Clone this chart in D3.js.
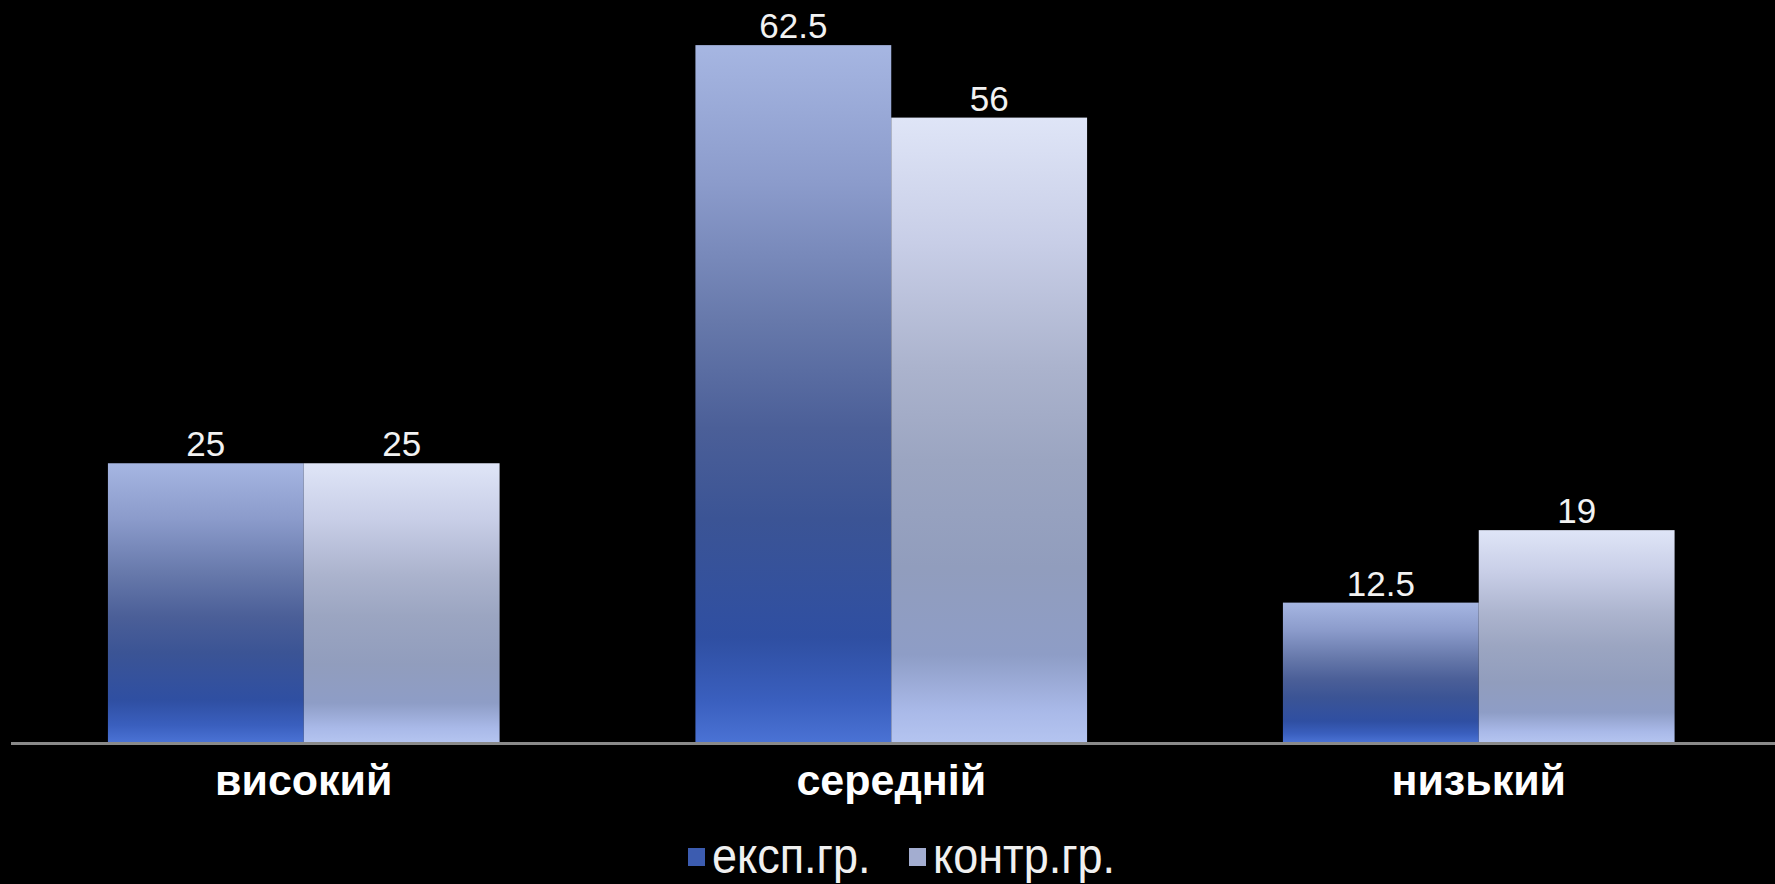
<!DOCTYPE html>
<html>
<head>
<meta charset="utf-8">
<script src="https://cdn.jsdelivr.net/npm/d3@7"></script>
<style>
  html, body { margin: 0; padding: 0; background: #000; }
  svg { display: block; }
</style>
</head>
<body>
<svg id="chart" width="1775" height="884"></svg>
<script>
const categories = ["високий", "середній", "низький"];
const seriesNames = ["експ.гр.", "контр.гр."];
const expValues = [25, 62.5, 12.5];
const contrValues = [25, 56, 19];
const valueLabels = [["25", "25"], ["62.5", "56"], ["12.5", "19"]];

const W = 1775, H = 884;
const svg = d3.select("#chart");
svg.append("rect").attr("width", W).attr("height", H).attr("fill", "#000");

const defs = svg.append("defs");
const gExp = defs.append("linearGradient").attr("id", "gradExp")
  .attr("x1", 0).attr("y1", 0).attr("x2", 0).attr("y2", 1);
[[0, "#a6b6e2"], [0.2, "#8b9bcb"], [0.4, "#6678aa"], [0.55, "#4b5f98"], [0.68, "#3b5495"],
 [0.85, "#2f4fa2"], [0.94, "#3a5fbe"], [1, "#4a72d4"]]
  .forEach(([o, c]) => gExp.append("stop").attr("offset", o).attr("stop-color", c));
const gCon = defs.append("linearGradient").attr("id", "gradCon")
  .attr("x1", 0).attr("y1", 0).attr("x2", 0).attr("y2", 1);
[[0, "#dfe5f7"], [0.2, "#c8cee7"], [0.4, "#abb3cd"], [0.55, "#9ba5c1"], [0.72, "#919dbd"],
 [0.86, "#8e9dc6"], [0.95, "#a9b9e8"], [1, "#b4c4f0"]]
  .forEach(([o, c]) => gCon.append("stop").attr("offset", o).attr("stop-color", c));

const x0 = d3.scaleBand().domain(categories).range([10, 1772.5])
  .paddingInner(1/3).paddingOuter(1/6);
const x1 = d3.scaleBand().domain(seriesNames).range([0, x0.bandwidth()]).padding(0);
const y = d3.scaleLinear().domain([0, 70]).range([742, 742 - 70 * 11.15]);

const rows = categories.map((c, i) => ({
  cat: c,
  vals: [
    { s: seriesNames[0], v: expValues[i], label: valueLabels[i][0], fill: "url(#gradExp)" },
    { s: seriesNames[1], v: contrValues[i], label: valueLabels[i][1], fill: "url(#gradCon)" }
  ]
}));

const groups = svg.selectAll("g.grp").data(rows).join("g")
  .attr("class", "grp")
  .attr("transform", d => `translate(${x0(d.cat)},0)`);

groups.selectAll("rect").data(d => d.vals).join("rect")
  .attr("x", d => x1(d.s))
  .attr("y", d => y(d.v))
  .attr("width", x1.bandwidth())
  .attr("height", d => y(0) - y(d.v))
  .attr("fill", d => d.fill);

groups.selectAll("text.val").data(d => d.vals).join("text")
  .attr("class", "val")
  .attr("x", d => x1(d.s) + x1.bandwidth() / 2)
  .attr("y", d => y(d.v) - 7)
  .attr("text-anchor", "middle")
  .attr("font-family", "'Liberation Sans', Arial, sans-serif")
  .attr("font-size", 35)
  .attr("fill", "#f2f2f2")
  .text(d => d.label);

// x axis
const xAxis = d3.axisBottom(x0).tickSize(0).tickPadding(0);
const axisG = svg.append("g").attr("transform", "translate(0,743.5)").call(xAxis);
axisG.select(".domain").attr("d", "M11,0H1775").attr("stroke", "#8a8a8a").attr("stroke-width", 3);
axisG.selectAll(".tick text")
  .attr("y", 51.5).attr("dy", 0)
  .attr("font-family", "'Liberation Sans', Arial, sans-serif")
  .attr("font-weight", "bold")
  .attr("font-size", 43)
  .attr("fill", "#ffffff");

// legend
const legend = svg.append("g");
const legendItems = [
  { name: seriesNames[0], color: "#3c5cb0", x: 688 },
  { name: seriesNames[1], color: "#a3add0", x: 909 }
];
legendItems.forEach(it => {
  legend.append("rect").attr("x", it.x).attr("y", 848).attr("width", 17).attr("height", 18)
    .attr("fill", it.color);
  legend.append("text")
    .attr("transform", `translate(${it.x + 24},873) scale(0.9,1)`)
    .attr("font-family", "'Liberation Sans', Arial, sans-serif")
    .attr("font-size", 50)
    .attr("fill", "#f0f0f0")
    .text(it.name);
});
</script>
</body>
</html>
